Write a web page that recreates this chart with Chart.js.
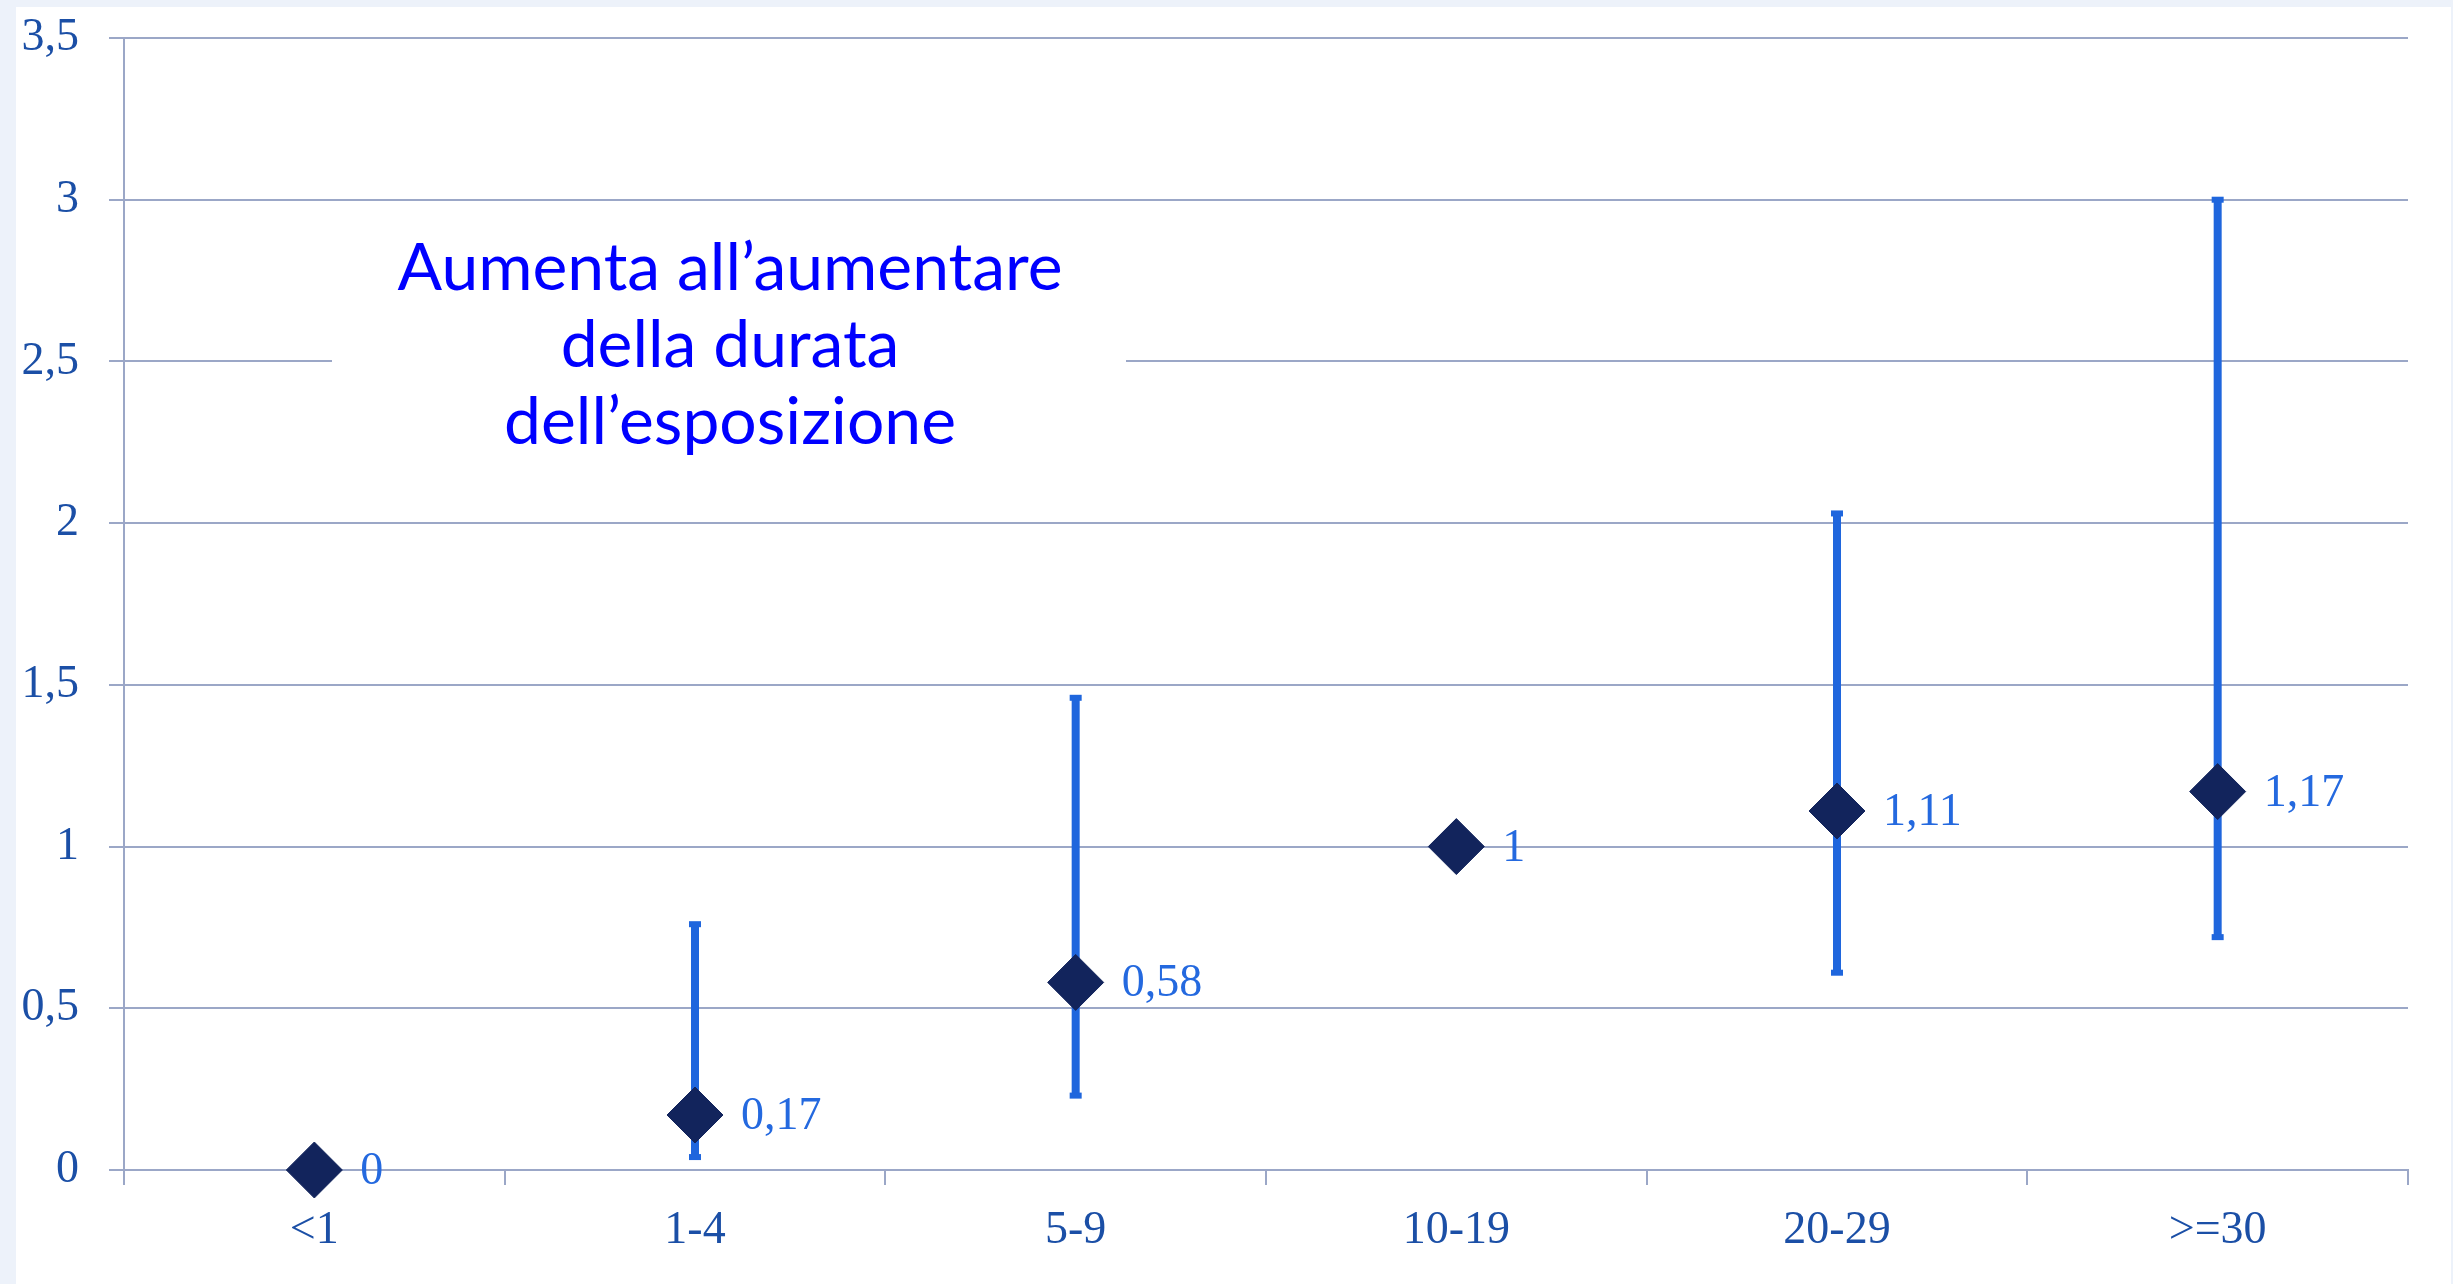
<!DOCTYPE html>
<html>
<head>
<meta charset="utf-8">
<script src="https://cdn.jsdelivr.net/npm/chart.js@4"></script>
<style>
    html, body { margin: 0; padding: 0; background: #edf2fa; overflow: hidden; }
    #sfondo { position: absolute; left: 16px; top: 7px; width: 2435px; height: 1277px; background: #ffffff; }
    #box { position: absolute; left: 0; top: 0; width: 2453px; height: 1284px; }
</style>
</head>
<body>
<div id="sfondo"></div>
<div id="box"><canvas id="graficoDurata"></canvas></div>
<script>
const categorie = ['<1', '1-4', '5-9', '10-19', '20-29', '>=30'];
const valori = [0, 0.17, 0.58, 1, 1.11, 1.17];
const limiteInf = [null, 0.04, 0.23, null, 0.61, 0.72];
const limiteSup = [null, 0.76, 1.46, null, 2.03, 3.0];
const etichetteValori = ['0', '0,17', '0,58', '1', '1,11', '1,17'];
const righeNota = ['Aumenta all\u2019aumentare', 'della durata', 'dell\u2019esposizione'];

const coloreGriglia = '#9ba7c7';
const coloreAsse = '#1b4fa6';

// sfondo bianco dietro la nota + testo
const notaPlugin = {
    id: 'nota',
    beforeDatasetsDraw(chart) {
        const ctx = chart.ctx;
        ctx.save();
        ctx.fillStyle = '#ffffff';
        ctx.fillRect(332, 218, 794, 262);
        ctx.fillStyle = '#0000ff';
        ctx.font = '66px "Comic Sans MS", Lato, sans-serif';
        ctx.textAlign = 'center';
        ctx.textBaseline = 'middle';
        righeNota.forEach((riga, i) => {
            ctx.fillText(riga, 730, 269 + i * 77);
        });
        ctx.restore();
    }
};

// barre di errore (intervalli)
const barrePlugin = {
    id: 'barre',
    beforeDatasetsDraw(chart) {
        const ctx = chart.ctx;
        const x = chart.scales.x;
        const y = chart.scales.y;
        ctx.save();
        ctx.fillStyle = '#1f66dd';
        categorie.forEach((c, i) => {
            if (limiteInf[i] == null) return;
            const px = x.getPixelForValue(i);
            const yTop = y.getPixelForValue(limiteSup[i]);
            const yBot = y.getPixelForValue(limiteInf[i]);
            ctx.fillRect(px - 4, yTop, 8, yBot - yTop);
            ctx.fillRect(px - 6, yTop - 3, 12, 6);
            ctx.fillRect(px - 6, yBot - 3, 12, 6);
        });
        ctx.restore();
    },
    afterDatasetsDraw(chart) {
        const ctx = chart.ctx;
        const meta = chart.getDatasetMeta(0);
        ctx.save();
        ctx.fillStyle = '#2469df';
        ctx.font = '46px "Liberation Serif", serif';
        ctx.textAlign = 'left';
        ctx.textBaseline = 'middle';
        meta.data.forEach((p, i) => {
            ctx.fillText(etichetteValori[i], p.x + 46, p.y + 2);
        });
        ctx.restore();
    }
};

const ctx = document.getElementById('graficoDurata').getContext('2d');
new Chart(ctx, {
    type: 'line',
    data: {
        labels: categorie,
        datasets: [{
            data: valori,
            showLine: false,
            clip: false,
            pointStyle: 'rectRot',
            pointRadius: 28,
            pointHoverRadius: 28,
            pointBackgroundColor: '#12245c',
            pointBorderColor: '#12245c',
            pointBorderWidth: 1
        }]
    },
    options: {
        responsive: true,
        maintainAspectRatio: false,
        animation: false,
        layout: { padding: { left: 0, top: 38, right: 45, bottom: 0 } },
        plugins: {
            legend: { display: false },
            tooltip: { enabled: false }
        },
        scales: {
            x: {
                offset: true,
                afterFit: (scale) => { scale.height = 114; },
                grid: {
                    offset: true,
                    drawOnChartArea: false,
                    color: coloreGriglia,
                    lineWidth: 2,
                    tickLength: 15
                },
                border: { color: coloreGriglia, width: 2 },
                ticks: {
                    color: coloreAsse,
                    padding: 18,
                    font: { family: '"Liberation Serif", serif', size: 46 }
                }
            },
            y: {
                min: 0,
                max: 3.5,
                afterFit: (scale) => {
                    scale.width = 124;
                    scale.paddingTop = 0;
                    scale.paddingBottom = 0;
                },
                grid: {
                    color: coloreGriglia,
                    lineWidth: 2,
                    tickLength: 15
                },
                border: { color: coloreGriglia, width: 2 },
                ticks: {
                    stepSize: 0.5,
                    color: coloreAsse,
                    padding: 30,
                    font: { family: '"Liberation Serif", serif', size: 46 },
                    callback: (v) => String(v).replace('.', ',')
                }
            }
        }
    },
    plugins: [notaPlugin, barrePlugin]
});
</script>
</body>
</html>
